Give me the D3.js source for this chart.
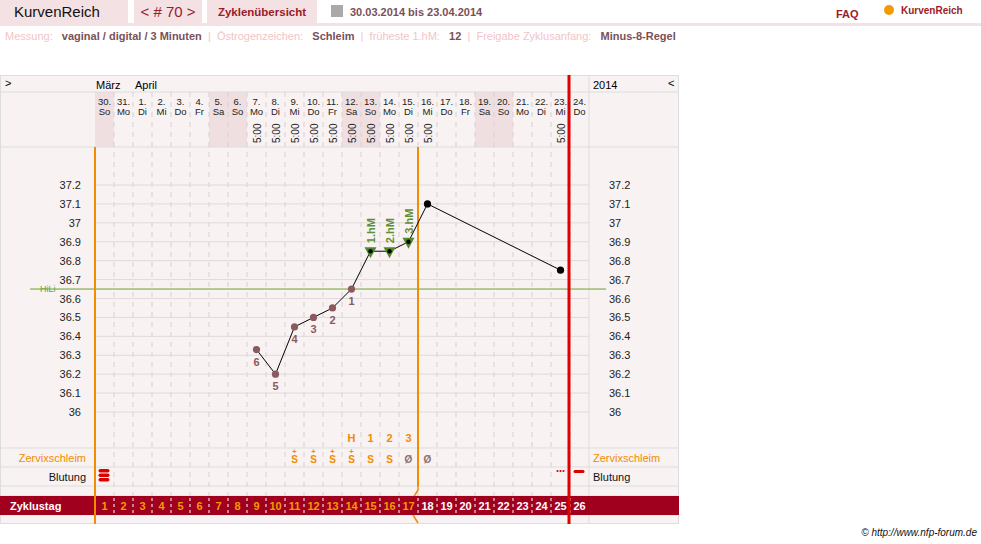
<!DOCTYPE html><html><head><meta charset="utf-8">
<script src="https://cdn.jsdelivr.net/npm/d3@7"></script>
<style>body{margin:0;background:#fff;font-family:"Liberation Sans",Arial,sans-serif}</style></head><body>
<svg id="c" width="981" height="544"></svg>
<script>
const dates=["30.","31.","1.","2.","3.","4.","5.","6.","7.","8.","9.","10.","11.","12.","13.","14.","15.","16.","17.","18.","19.","20.","21.","22.","23.","24."];
const weekdays=["So","Mo","Di","Mi","Do","Fr","Sa","So","Mo","Di","Mi","Do","Fr","Sa","So","Mo","Di","Mi","Do","Fr","Sa","So","Mo","Di","Mi","Do"];
const times=[null,null,null,null,null,null,null,null,"5:00","5:00","5:00","5:00","5:00","5:00","5:00","5:00","5:00","5:00",null,null,null,null,null,null,"5:00",null];
const tempDays=[9,10,11,12,13,14,15,16,17,18,25];
const temps=[36.33,36.2,36.45,36.5,36.55,36.65,36.85,36.85,36.9,37.1,36.75];
const lowLabels=[6,5,4,3,2,1];
const hmDays=[15,16,17],hmLabels=["1.hM","2.hM","3.hM"];
const mucus=[[11,"S+"],[12,"S+"],[13,"S+"],[14,"S+"],[15,"S"],[16,"S"],[17,"Ø"],[18,"Ø"]];
const peak=[[14,"H"],[15,"1"],[16,"2"],[17,"3"]];
const yTicks=[36,36.1,36.2,36.3,36.4,36.5,36.6,36.7,36.8,36.9,37,37.1,37.2];
const hili=36.65;
const svg=d3.select("#c");
const x=d3.scaleLinear().domain([1,27]).range([95,589]);
const cw=x(2)-x(1);
const cx=d=>x(d)+cw/2;
const y=d3.scaleLinear().domain([36,37.2]).range([412,185]);
const hb="#f3e1e3";
svg.append("rect").attr("x",0).attr("y",0).attr("width",128).attr("height",23).attr("fill",hb);
svg.append("text").attr("x",14).attr("y",17).text("KurvenReich").attr("font-size",15).attr("fill","#111");
svg.append("rect").attr("x",134).attr("y",0).attr("width",68).attr("height",23).attr("fill",hb);
svg.append("text").attr("x",168).attr("y",17).attr("text-anchor","middle").text("< # 70 >").attr("font-size",15).attr("fill","#9b1b2a");
svg.append("rect").attr("x",207).attr("y",0).attr("width",110).attr("height",23).attr("fill",hb);
svg.append("text").attr("x",262).attr("y",16).attr("text-anchor","middle").text("Zyklenübersicht").attr("font-size",11.5).attr("font-weight","bold").attr("fill","#9b1b2a");
svg.append("rect").attr("x",0).attr("y",23).attr("width",981).attr("height",3).attr("fill",hb);
svg.append("rect").attr("x",331).attr("y",5).attr("width",12).attr("height",12).attr("fill","#aaa");
svg.append("text").attr("x",350).attr("y",16).text("30.03.2014 bis 23.04.2014").attr("font-size",11).attr("font-weight","bold").attr("fill","#7a5058");
svg.append("text").attr("x",836).attr("y",18).text("FAQ").attr("font-size",11).attr("font-weight","bold").attr("fill","#9b1b2a");
svg.append("text").attr("x",901).attr("y",14).text("KurvenReich").attr("font-size",10).attr("font-weight","bold").attr("fill","#9b1b2a");
svg.append("circle").attr("cx",889).attr("cy",10).attr("r",5).attr("fill","#f29b00");
const info=svg.append("text").attr("x",5).attr("y",40).attr("font-size",11);
[["Messung:  ","#f2c4c8"],["vaginal / digital / 3 Minuten","#7a5058",1],[" | ","#f2c4c8"],["Östrogenzeichen:  ","#f2c4c8"],["Schleim","#7a5058",1],[" | ","#f2c4c8"],["früheste 1.hM:  ","#f2c4c8"],["12","#7a5058",1],[" | ","#f2c4c8"],["Freigabe Zyklusanfang:  ","#f2c4c8"],["Minus-8-Regel","#7a5058",1]].forEach(t=>info.append("tspan").text(t[0]+" ").attr("fill",t[1]).attr("font-weight",t[2]?"bold":"normal").attr("xml:space","preserve"));
svg.append("defs").append("clipPath").attr("id","fr").append("rect").attr("x",0).attr("y",75).attr("width",679).attr("height",449);
svg.append("rect").attr("x",0.5).attr("y",75.5).attr("width",678).attr("height",448).attr("fill","#f8f2f2").attr("stroke","#ddd");
const days=d3.range(1,27);
svg.selectAll(".we").data(days.filter(d=>["Sa","So"].includes(weekdays[d-1]))).join("rect")
 .attr("x",d=>x(d)).attr("y",92).attr("width",cw).attr("height",55).attr("fill","#f0dfe1");
[92,147,448,467,486,496,515].forEach(v=>svg.append("line").attr("x1",0).attr("x2",679).attr("y1",v).attr("y2",v).attr("stroke","#ddd"));
svg.append("line").attr("x1",589).attr("x2",589).attr("y1",75).attr("y2",524).attr("stroke","#ddd");
svg.selectAll(".vg").data(d3.range(2,27)).join("line").attr("x1",d=>x(d)).attr("x2",d=>x(d)).attr("y1",92).attr("y2",515)
 .attr("stroke","#d8d0d0").attr("stroke-dasharray","5,5");
svg.selectAll(".hg").data(yTicks).join("line").attr("x1",95).attr("x2",589).attr("y1",d=>y(d)).attr("y2",d=>y(d)).attr("stroke","#e2dada");
svg.append("g").attr("transform","translate(84,0)").call(d3.axisLeft(y).tickValues(yTicks).tickSize(0).tickFormat(d3.format("~g"))).call(g=>g.select(".domain").remove()).selectAll("text").attr("font-size",11).attr("fill","#222").attr("font-family","Liberation Sans");
svg.append("g").attr("transform","translate(610,0)").call(d3.axisRight(y).tickValues(yTicks).tickSize(0).tickFormat(d3.format("~g"))).call(g=>g.select(".domain").remove()).selectAll("text").attr("font-size",11).attr("fill","#222").attr("font-family","Liberation Sans").attr("dx",-4);
svg.append("text").attr("x",5).attr("y",87).text(">").attr("font-size",11);
svg.append("text").attr("x",96).attr("y",89).text("März").attr("font-size",11);
svg.append("text").attr("x",135).attr("y",89).text("April").attr("font-size",11);
svg.append("text").attr("x",593).attr("y",89).text("2014").attr("font-size",11);
svg.append("text").attr("x",668).attr("y",87).text("<").attr("font-size",11);
const dg=svg.selectAll(".dl").data(days).join("g");
dg.append("text").attr("x",d=>cx(d)).attr("y",105).attr("text-anchor","middle").text(d=>dates[d-1]).attr("font-size",9.5).attr("fill","#222");
dg.append("text").attr("x",d=>cx(d)).attr("y",115).attr("text-anchor","middle").text(d=>weekdays[d-1]).attr("font-size",9.5).attr("fill","#222");
dg.filter(d=>times[d-1]).append("text").attr("transform",d=>`translate(${cx(d)+4},143) rotate(-90)`).text(d=>times[d-1]).attr("font-size",10).attr("fill","#222");
svg.append("line").attr("x1",30).attr("x2",606).attr("y1",y(hili)).attr("y2",y(hili)).attr("stroke","#6aa42c");
svg.append("text").attr("x",40).attr("y",y(hili)+3).text("HiLi").attr("font-size",9).attr("fill","#6aa42c");
svg.append("line").attr("x1",x(1)).attr("x2",x(1)).attr("y1",147).attr("y2",524).attr("stroke","#f28c00").attr("stroke-width",2);
svg.append("line").attr("x1",x(18)).attr("x2",x(18)).attr("y1",147).attr("y2",486).attr("stroke","#f28c00").attr("stroke-width",2);
svg.append("path").attr("clip-path","url(#fr)").attr("d",`M${x(18)},486 V490 L${x(18)-5},498 M${x(18)-5},515 L${x(18)},523`).attr("stroke","#f28c00").attr("stroke-width",1.5).attr("fill","none");
const pts=tempDays.map((d,i)=>({d,t:temps[i]}));
svg.append("path").datum(pts).attr("d",d3.line().x(p=>cx(p.d)).y(p=>y(p.t))).attr("fill","none").attr("stroke","#000");
svg.selectAll(".tri").data(pts.filter(p=>hmDays.includes(p.d))).join("path").attr("d",p=>`M${cx(p.d)-6},${y(p.t)-4}h12l-6,11z`).attr("fill","#4f8a2a");
svg.selectAll(".pt").data(pts).join("circle").attr("cx",p=>cx(p.d)).attr("cy",p=>y(p.t))
 .attr("r",p=>hmDays.includes(p.d)?2.2:3.6).attr("fill",p=>p.d<15?"#8b5a5e":"#000");
svg.selectAll(".ll").data(pts.slice(0,6)).join("text").attr("x",p=>cx(p.d)).attr("y",p=>y(p.t)+16).attr("text-anchor","middle").text((p,i)=>lowLabels[i]).attr("font-size",11).attr("font-weight","bold").attr("fill","#8b5a5e");
svg.selectAll(".hm").data(pts.filter(p=>hmDays.includes(p.d))).join("text").attr("transform",p=>`translate(${cx(p.d)+4},${y(p.t)-8}) rotate(-90)`).text((p,i)=>hmLabels[i]).attr("font-size",11).attr("font-weight","bold").attr("fill","#5e8f35");
svg.append("line").attr("x1",569).attr("x2",569).attr("y1",75).attr("y2",524).attr("stroke","#e00000").attr("stroke-width",3);
svg.selectAll(".pk").data(peak).join("text").attr("x",d=>cx(d[0])).attr("y",442).attr("text-anchor","middle").text(d=>d[1]).attr("font-size",11).attr("font-weight","bold").attr("fill","#f28c00");
svg.append("text").attr("x",86).attr("y",462).attr("text-anchor","end").text("Zervixschleim").attr("font-size",11).attr("fill","#f28c00");
svg.append("text").attr("x",593).attr("y",462).text("Zervixschleim").attr("font-size",11).attr("fill","#f28c00");
svg.append("text").attr("x",86).attr("y",481).attr("text-anchor","end").text("Blutung").attr("font-size",11).attr("fill","#111");
svg.append("text").attr("x",593).attr("y",481).text("Blutung").attr("font-size",11).attr("fill","#111");
mucus.forEach(([d,s])=>{const grey=s=="Ø";
 svg.append("text").attr("x",cx(d)).attr("y",463).attr("text-anchor","middle").text(s[0]).attr("font-size",10).attr("font-weight","bold").attr("fill",grey?"#8a7070":"#f28c00");
 if(s.length>1)svg.append("text").attr("x",cx(d)).attr("y",454).attr("text-anchor","middle").text("+").attr("font-size",7.5).attr("font-weight","bold").attr("fill","#f28c00");});
[0,1,2].forEach(i=>svg.append("rect").attr("x",cx(1)-6).attr("y",469+i*4.5).attr("width",11).attr("height",3.5).attr("rx",1.7).attr("fill","#d00"));
[-3,0,3].forEach(o=>svg.append("circle").attr("cx",cx(25)+o).attr("cy",471).attr("r",1.1).attr("fill","#d00"));
svg.append("rect").attr("x",cx(26)-6).attr("y",470).attr("width",11).attr("height",3).attr("rx",1.5).attr("fill","#d00");
svg.append("rect").attr("x",0).attr("y",496).attr("width",679).attr("height",19).attr("fill","#a0001e");
svg.append("text").attr("x",10).attr("y",510).text("Zyklustag").attr("font-size",11).attr("font-weight","bold").attr("fill","#fff");
svg.selectAll(".zt").data(days).join("text").attr("x",d=>cx(d)).attr("y",510).attr("text-anchor","middle").text(d=>d).attr("font-size",11).attr("font-weight","bold").attr("fill",d=>d<=17?"#f29b00":"#fff");
svg.selectAll(".zs").data(d3.range(2,27)).join("line").attr("x1",d=>x(d)).attr("x2",d=>x(d)).attr("y1",498).attr("y2",513).attr("stroke","#fff").attr("stroke-dasharray","3,3");
svg.append("line").attr("x1",x(1)).attr("x2",x(1)).attr("y1",496).attr("y2",515).attr("stroke","#f28c00").attr("stroke-width",2);
svg.append("line").attr("x1",569).attr("x2",569).attr("y1",496).attr("y2",515).attr("stroke","#e00000").attr("stroke-width",3);
svg.append("text").attr("x",977).attr("y",536).attr("text-anchor","end").text("© http://www.nfp-forum.de").attr("font-size",10).attr("font-style","italic").attr("fill","#111");
</script></body></html>
